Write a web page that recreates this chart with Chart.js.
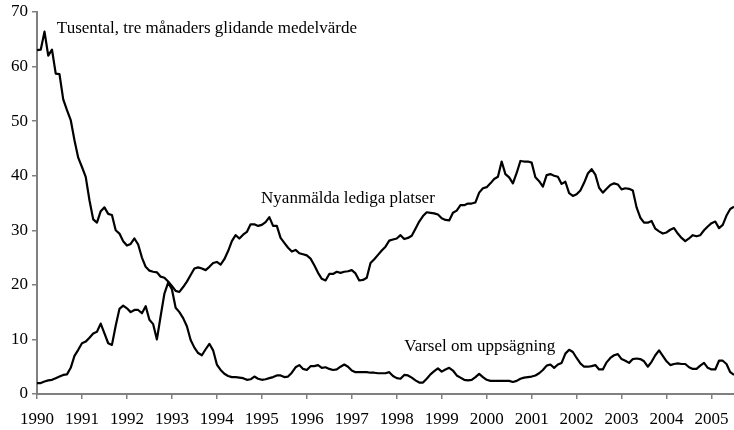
<!DOCTYPE html>
<html>
<head>
<meta charset="utf-8">
<script src="https://cdn.jsdelivr.net/npm/chart.js@4.4.1/dist/chart.umd.min.js"></script>
<style>
  html, body { margin: 0; padding: 0; background: #fff; }
  #wrap { width: 734px; height: 430px; position: relative; }
</style>
</head>
<body>
<div id="wrap"><canvas id="chartVarsel"></canvas></div>
<script>
// Tusental, tre månaders glidande medelvärde, jan 1990 - jul 2005
const years = ['1990', '1991', '1992', '1993', '1994', '1995', '1996', '1997',
  '1998', '1999', '2000', '2001', '2002', '2003', '2004', '2005']

const lediga = [
  63.0, 63.1, 66.4, 62.0, 63.1, 58.7, 58.6, 54.0, 52.0, 50.2, 46.5, 43.3,
  41.6, 39.8, 35.5, 32.0, 31.4, 33.5, 34.2, 33.0, 32.8, 30.0, 29.4, 28.0,
  27.2, 27.5, 28.5, 27.4, 25.0, 23.3, 22.6, 22.4, 22.3, 21.5, 21.3, 20.6,
  19.8, 18.9, 18.7, 19.6, 20.6, 21.8, 23.0, 23.2, 23.0, 22.7, 23.3, 24.0,
  24.2, 23.7, 24.7, 26.2, 28.0, 29.1, 28.5, 29.2, 29.7, 31.1, 31.1, 30.8,
  31.0, 31.5, 32.4, 30.8, 30.8, 28.6, 27.7, 26.8, 26.1, 26.4, 25.8, 25.6,
  25.4, 24.8, 23.6, 22.2, 21.1, 20.8, 22.0, 22.0, 22.4, 22.2, 22.4, 22.5,
  22.7, 22.1, 20.8, 20.9, 21.3, 24.0, 24.7, 25.5, 26.3, 27.0, 28.1, 28.3,
  28.5, 29.1, 28.4, 28.6, 29.0, 30.3, 31.6, 32.6, 33.3, 33.2, 33.1, 32.9,
  32.2, 31.9, 31.8, 33.2, 33.6, 34.6, 34.6, 34.9, 34.9, 35.1, 36.9, 37.7,
  37.9, 38.6, 39.4, 39.8, 42.6, 40.3, 39.7, 38.6, 40.5, 42.7, 42.6, 42.6,
  42.4, 39.7, 39.0, 38.0, 40.1, 40.3, 40.0, 39.8, 38.5, 38.9, 36.8, 36.3,
  36.6, 37.3, 38.7, 40.4, 41.2, 40.2, 37.8, 36.9, 37.6, 38.3, 38.6, 38.4,
  37.5, 37.7, 37.6, 37.3, 34.2, 32.3, 31.4, 31.4, 31.7, 30.3, 29.8, 29.4,
  29.6, 30.1, 30.4, 29.4, 28.6, 28.0, 28.5, 29.1, 28.9, 29.1, 30.0, 30.7,
  31.3, 31.6, 30.4, 31.0, 32.7, 33.9, 34.3
]

const varsel = [
  2.0, 2.0, 2.3, 2.5, 2.6, 2.9, 3.2, 3.5, 3.6, 4.8, 7.0, 8.1,
  9.3, 9.6, 10.3, 11.1, 11.4, 12.9, 11.1, 9.3, 9.0, 12.5, 15.6, 16.2,
  15.7, 15.0, 15.4, 15.4, 14.8, 16.1, 13.6, 12.8, 10.0, 14.3, 18.4, 20.4,
  19.2, 15.8, 15.0, 13.9, 12.4, 9.9, 8.5, 7.5, 7.1, 8.2, 9.2, 8.0,
  5.4, 4.4, 3.7, 3.3, 3.1, 3.1, 3.0, 2.9, 2.6, 2.7, 3.2, 2.8,
  2.6, 2.7, 2.9, 3.1, 3.4, 3.4, 3.1, 3.2, 3.9, 4.9, 5.3, 4.6,
  4.4, 5.1, 5.1, 5.3, 4.8, 4.9, 4.6, 4.4, 4.5, 5.0, 5.4, 5.0,
  4.3, 4.0, 4.0, 4.0, 4.0, 3.9, 3.9, 3.8, 3.8, 3.8, 4.0, 3.3,
  2.9, 2.8, 3.5, 3.4, 3.0, 2.5, 2.1, 2.1, 2.8, 3.6, 4.2, 4.7,
  4.1, 4.5, 4.8, 4.3, 3.4, 3.0, 2.6, 2.5, 2.6, 3.1, 3.7, 3.1,
  2.6, 2.4, 2.4, 2.4, 2.4, 2.4, 2.4, 2.2, 2.4, 2.8, 3.0, 3.1,
  3.2, 3.4, 3.8, 4.4, 5.2, 5.4, 4.8, 5.4, 5.7, 7.4, 8.1, 7.7,
  6.6, 5.6, 5.0, 5.0, 5.1, 5.3, 4.5, 4.5, 5.8, 6.6, 7.1, 7.3,
  6.4, 6.1, 5.7, 6.4, 6.5, 6.4, 6.0, 5.0, 5.9, 7.1, 8.0, 7.0,
  6.0, 5.3, 5.5, 5.6, 5.5, 5.5, 4.9, 4.6, 4.6, 5.2, 5.7, 4.8,
  4.5, 4.5, 6.1, 6.1, 5.5, 4.0, 3.5
]

// months as categories, one per value
const months = []
years.forEach(function (y) {
  for (let m = 1; m <= 12; m++) months.push(y + '-' + (m < 10 ? '0' + m : m))
})
const labels = months.slice(0, lediga.length)

// texts placed in data units (month index, value)
const notes = [
  { text: 'Tusental, tre månaders glidande medelvärde', at: [5.3, 66.2] },
  { text: 'Nyanmälda lediga platser', at: [59.8, 35.0] },
  { text: 'Varsel om uppsägning', at: [98.0, 7.9] }
]

const font = { family: "'Liberation Serif', 'Times New Roman', serif", size: 17 }
const axisGrey = '#808080'

const notesPlugin = {
  id: 'notes',
  afterDatasetsDraw(chart) {
    const ctx = chart.ctx
    const xs = chart.scales.x, ys = chart.scales.y
    ctx.save()
    ctx.fillStyle = '#000'
    ctx.font = font.size + 'px ' + font.family
    ctx.textAlign = 'left'
    ctx.textBaseline = 'alphabetic'
    notes.forEach(function (n) {
      ctx.fillText(n.text, xs.getPixelForValue(n.at[0]), ys.getPixelForValue(n.at[1]))
    })
    ctx.restore()
  }
}

var ctxVarsel = document.getElementById('chartVarsel').getContext('2d');
var chartVarsel = new Chart(ctxVarsel, {
  type: 'line',
  data: {
    labels: labels,
    datasets: [
      { label: 'Nyanmälda lediga platser', data: lediga },
      { label: 'Varsel om uppsägning', data: varsel }
    ]
  },
  options: {
    responsive: true,
    maintainAspectRatio: false,
    animation: false,
    layout: { padding: { top: 12, right: 0, bottom: 0, left: 0 } },
    elements: {
      line: { borderColor: '#000', borderWidth: 2.2, tension: 0, borderJoinStyle: 'round' },
      point: { radius: 0 }
    },
    plugins: { legend: { display: false }, tooltip: { enabled: false } },
    scales: {
      x: {
        type: 'category',
        offset: false,
        afterFit: function (s) { s.height = 36; s.paddingLeft = 0; s.paddingRight = 0 },
        border: { display: true, color: axisGrey, width: 2 },
        grid: { drawOnChartArea: false, drawTicks: true, tickLength: 5, color: axisGrey, lineWidth: 1.5 },
        ticks: {
          autoSkip: false, maxRotation: 0, padding: 10, color: '#000', font: font,
          callback: function (v, i) { return i % 12 === 0 ? years[i / 12] : null }
        }
      },
      y: {
        min: 0, max: 70,
        afterFit: function (s) { s.width = 37; s.paddingTop = 0; s.paddingBottom = 0 },
        border: { display: true, color: axisGrey, width: 2 },
        grid: { drawOnChartArea: false, drawTicks: true, tickLength: 5, color: axisGrey, lineWidth: 1.5 },
        ticks: { stepSize: 10, padding: 4, color: '#000', font: font }
      }
    }
  },
  plugins: [notesPlugin]
});
</script>
</body>
</html>
